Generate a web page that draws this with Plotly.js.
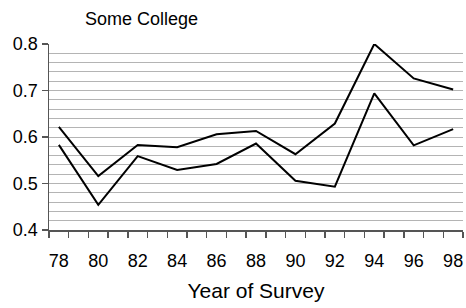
<!DOCTYPE html>
<html>
<head>
<meta charset="utf-8">
<script src="https://cdn.plot.ly/plotly-3.0.1.min.js"></script>
<style>html,body{margin:0;padding:0;background:#fff;}#chart{width:466px;height:308px;}</style>
</head>
<body>
<div id="chart"></div>
<script>
var years = [78, 80, 82, 84, 86, 88, 90, 92, 94, 96, 98];
var upperSeries = [0.622, 0.516, 0.583, 0.578, 0.606, 0.613, 0.563, 0.629, 0.800, 0.726, 0.702];
var lowerSeries = [0.583, 0.454, 0.559, 0.529, 0.542, 0.586, 0.506, 0.493, 0.694, 0.582, 0.617];
var xTickLabels = ['78', '80', '82', '84', '86', '88', '90', '92', '94', '96', '98'];
var yTickVals = [0.4, 0.5, 0.6, 0.7, 0.8];
var yTickText = ['0.4', '0.5', '0.6', '0.7', '0.8'];

var font = 'Liberation Sans, Arial, sans-serif';
var traces = [
  {x: years, y: upperSeries, type: 'scatter', mode: 'lines', line: {color: '#000', width: 2}, hoverinfo: 'none'},
  {x: years, y: lowerSeries, type: 'scatter', mode: 'lines', line: {color: '#000', width: 2}, hoverinfo: 'none'}
];
var layout = {
  width: 466, height: 308,
  margin: {l: 49, r: 3, t: 44, b: 78},
  paper_bgcolor: '#fff', plot_bgcolor: '#fff',
  showlegend: false,
  font: {family: font, color: '#000'},
  title: {text: 'Some College', font: {family: font, size: 18, color: '#000'}, x: 141.5/466, xref: 'container', xanchor: 'center', y: 1 - 19/308, yref: 'container', yanchor: 'middle'},
  xaxis: {
    range: [77.5, 98.5],
    tickmode: 'array', tickvals: years, ticktext: xTickLabels,
    ticks: '', showgrid: false, zeroline: false,
    showline: true, linecolor: '#555', linewidth: 1.5,
    tickfont: {family: font, size: 18, color: '#000'},
    ticklabelstandoff: 14,
    minor: {ticks: 'outside', ticklen: 6, tickcolor: '#555', tickwidth: 1.5, tick0: 77.5, dtick: 1, showgrid: false},
    title: {text: 'Year of Survey', font: {family: font, size: 21, color: '#000'}, standoff: 13}
  },
  yaxis: {
    range: [0.4, 0.8],
    tickmode: 'array', tickvals: yTickVals, ticktext: yTickText,
    ticks: 'outside', ticklen: 6, tickcolor: '#555', tickwidth: 1.5,
    showgrid: true, gridcolor: '#b4b4b4', gridwidth: 1,
    minor: {tickmode: 'linear', tick0: 0.4, dtick: 0.02, showgrid: true, gridcolor: '#b4b4b4', gridwidth: 1, ticks: ''},
    zeroline: false, showline: true, linecolor: '#555', linewidth: 1.5,
    tickfont: {family: font, size: 18, color: '#000'}
  }
};
Plotly.newPlot('chart', traces, layout, {staticPlot: true, displayModeBar: false});
</script>
</body>
</html>
